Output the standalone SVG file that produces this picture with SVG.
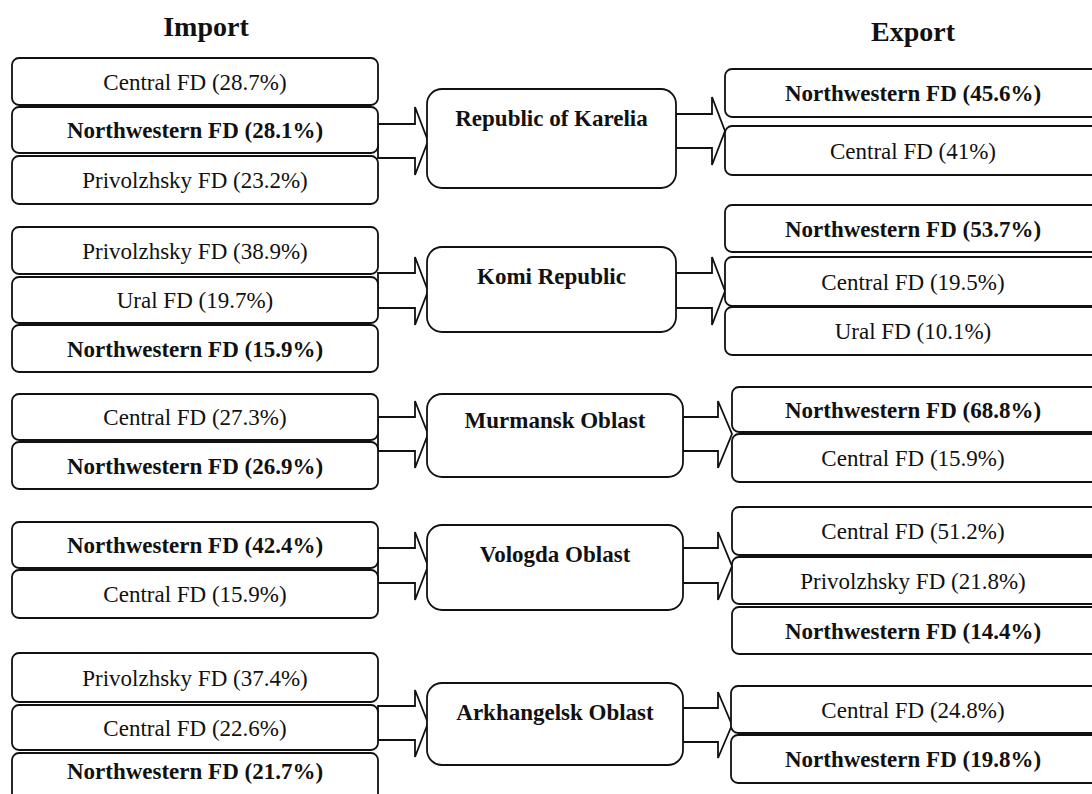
<svg xmlns="http://www.w3.org/2000/svg" width="1092" height="794" viewBox="0 0 1092 794">
  <style>
    .bg { fill: #ffffff; }
    .box { fill: #ffffff; stroke: #111111; stroke-width: 1.8; }
    .region { fill: #ffffff; stroke: #111111; stroke-width: 1.8; }
    .arrow { fill: #ffffff; stroke: #111111; stroke-width: 1.8; stroke-linejoin: miter; }
    text { font-family: "Liberation Serif", "Times New Roman", serif; fill: #111111; text-anchor: middle; }
    .t { font-size: 23px; }
    .b { font-size: 23px; font-weight: bold; }
    .head { font-size: 28px; font-weight: bold; }
  </style>

  <rect class="bg" x="0" y="0" width="1092" height="794"/>

  <!-- column headings -->
  <text class="head" x="206" y="36">Import</text>
  <text class="head" x="913" y="41">Export</text>

  <!-- block arrows: import column -> region -> export column -->
  <g id="connectors">
    <polygon class="arrow" points="378,124 415,124 415,107 428,141 415,175 415,158 378,158"/>
    <polygon class="arrow" points="676,114 712,114 712,97 725,131 712,165 712,148 676,148"/>

    <polygon class="arrow" points="378,273 415,273 415,257 428,291 415,325 415,308 378,308"/>
    <polygon class="arrow" points="676,273 712,273 712,257 725,291 712,325 712,308 676,308"/>

    <polygon class="arrow" points="378,417 415,417 415,401 428,434 415,468 415,451 378,451"/>
    <polygon class="arrow" points="683,417 718,417 718,401 732,434 718,468 718,451 683,451"/>

    <polygon class="arrow" points="378,548 415,548 415,532 428,566 415,600 415,583 378,583"/>
    <polygon class="arrow" points="683,548 718,548 718,532 732,566 718,600 718,583 683,583"/>

    <polygon class="arrow" points="378,706 415,706 415,690 428,723 415,757 415,740 378,740"/>
    <polygon class="arrow" points="683,708 718,708 718,692 732,725 718,758 718,742 683,742"/>
  </g>

  <!-- Republic of Karelia -->
  <g id="karelia-import">
    <rect class="box" x="12" y="58" width="366" height="47" rx="7"/>
    <text class="t" x="195" y="89.5">Central FD (28.7%)</text>
    <rect class="box" x="12" y="107" width="366" height="46" rx="7"/>
    <text class="b" x="195" y="138">Northwestern FD (28.1%)</text>
    <rect class="box" x="12" y="156" width="366" height="48" rx="7"/>
    <text class="t" x="195" y="188">Privolzhsky FD (23.2%)</text>
  </g>
  <g id="karelia">
    <rect class="region" x="427" y="89" width="249" height="99" rx="15"/>
    <text class="b" x="551.5" y="126">Republic of Karelia</text>
  </g>
  <g id="karelia-export">
    <rect class="box" x="725" y="69" width="376" height="48" rx="7"/>
    <text class="b" x="913" y="101">Northwestern FD (45.6%)</text>
    <rect class="box" x="725" y="126" width="376" height="49" rx="7"/>
    <text class="t" x="913" y="158.5">Central FD (41%)</text>
  </g>

  <!-- Komi Republic -->
  <g id="komi-import">
    <rect class="box" x="12" y="227" width="366" height="47" rx="7"/>
    <text class="t" x="195" y="258.5">Privolzhsky FD (38.9%)</text>
    <rect class="box" x="12" y="277" width="366" height="46" rx="7"/>
    <text class="t" x="195" y="308">Ural FD (19.7%)</text>
    <rect class="box" x="12" y="325" width="366" height="47" rx="7"/>
    <text class="b" x="195" y="356.5">Northwestern FD (15.9%)</text>
  </g>
  <g id="komi">
    <rect class="region" x="427" y="247" width="249" height="85" rx="15"/>
    <text class="b" x="551.5" y="284">Komi Republic</text>
  </g>
  <g id="komi-export">
    <rect class="box" x="725" y="205" width="376" height="47" rx="7"/>
    <text class="b" x="913" y="236.5">Northwestern FD (53.7%)</text>
    <rect class="box" x="725" y="257" width="376" height="49" rx="7"/>
    <text class="t" x="913" y="289.5">Central FD (19.5%)</text>
    <rect class="box" x="725" y="307" width="376" height="48" rx="7"/>
    <text class="t" x="913" y="339">Ural FD (10.1%)</text>
  </g>

  <!-- Murmansk Oblast -->
  <g id="murmansk-import">
    <rect class="box" x="12" y="394" width="366" height="46" rx="7"/>
    <text class="t" x="195" y="425">Central FD (27.3%)</text>
    <rect class="box" x="12" y="442" width="366" height="47" rx="7"/>
    <text class="b" x="195" y="473.5">Northwestern FD (26.9%)</text>
  </g>
  <g id="murmansk">
    <rect class="region" x="427" y="394" width="256" height="83" rx="15"/>
    <text class="b" x="555" y="428">Murmansk Oblast</text>
  </g>
  <g id="murmansk-export">
    <rect class="box" x="732" y="387" width="369" height="45" rx="7"/>
    <text class="b" x="913" y="417.5">Northwestern FD (68.8%)</text>
    <rect class="box" x="732" y="434" width="369" height="48" rx="7"/>
    <text class="t" x="913" y="466">Central FD (15.9%)</text>
  </g>

  <!-- Vologda Oblast -->
  <g id="vologda-import">
    <rect class="box" x="12" y="522" width="366" height="46" rx="7"/>
    <text class="b" x="195" y="553">Northwestern FD (42.4%)</text>
    <rect class="box" x="12" y="570" width="366" height="48" rx="7"/>
    <text class="t" x="195" y="602">Central FD (15.9%)</text>
  </g>
  <g id="vologda">
    <rect class="region" x="427" y="525" width="256" height="85" rx="15"/>
    <text class="b" x="555" y="562">Vologda Oblast</text>
  </g>
  <g id="vologda-export">
    <rect class="box" x="732" y="507" width="369" height="48" rx="7"/>
    <text class="t" x="913" y="539">Central FD (51.2%)</text>
    <rect class="box" x="732" y="557" width="369" height="47" rx="7"/>
    <text class="t" x="913" y="588.5">Privolzhsky FD (21.8%)</text>
    <rect class="box" x="732" y="607" width="369" height="47" rx="7"/>
    <text class="b" x="913" y="638.5">Northwestern FD (14.4%)</text>
  </g>

  <!-- Arkhangelsk Oblast -->
  <g id="arkhangelsk-import">
    <rect class="box" x="12" y="653" width="366" height="49" rx="7"/>
    <text class="t" x="195" y="685.5">Privolzhsky FD (37.4%)</text>
    <rect class="box" x="12" y="705" width="366" height="45" rx="7"/>
    <text class="t" x="195" y="735.5">Central FD (22.6%)</text>
    <rect class="box" x="12" y="753" width="366" height="50" rx="7"/>
    <text class="b" x="195" y="779">Northwestern FD (21.7%)</text>
  </g>
  <g id="arkhangelsk">
    <rect class="region" x="427" y="683" width="256" height="82" rx="15"/>
    <text class="b" x="555" y="720">Arkhangelsk Oblast</text>
  </g>
  <g id="arkhangelsk-export">
    <rect class="box" x="731" y="686" width="370" height="47" rx="7"/>
    <text class="t" x="913" y="717.5">Central FD (24.8%)</text>
    <rect class="box" x="731" y="735" width="370" height="48" rx="7"/>
    <text class="b" x="913" y="767">Northwestern FD (19.8%)</text>
  </g>
</svg>
